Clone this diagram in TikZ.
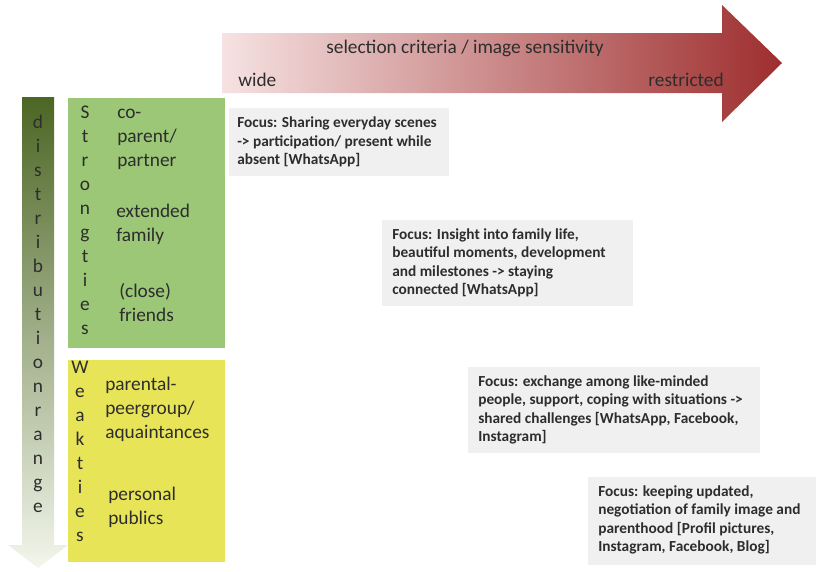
\documentclass[tikz,border=0pt]{standalone}
\usepackage{fontspec}
\setmainfont{Carlito}
\definecolor{rougeClair}{RGB}{246,226,226}
\definecolor{rougeFonce}{RGB}{158,46,46}
\definecolor{vertFonce}{RGB}{76,102,36}
\definecolor{vertClair}{RGB}{243,246,236}
\definecolor{vertCadre}{RGB}{155,199,118}
\definecolor{jauneCadre}{RGB}{232,228,88}
\definecolor{grisCadre}{RGB}{240,240,240}
\definecolor{encre}{RGB}{45,45,45}
\begin{document}
\begin{tikzpicture}[x=0.75pt,y=-0.75pt]
			\tikzstyle{cadre}=[anchor=north west,inner sep=0pt,fill=grisCadre]
			\tikzstyle{lettres}=[align=center,inner sep=0pt,text=encre,font=\fontsize{14.5}{18}\selectfont]
			\tikzstyle{groupe}=[anchor=west,align=left,inner sep=0pt,text=encre,font=\fontsize{14.5}{18}\selectfont]
			\tikzstyle{focus}=[anchor=west,align=left,inner sep=0pt,text=encre,font=\fontsize{11.5}{13.8}\selectfont\bfseries]
			\tikzstyle{etiquette}=[inner sep=0pt,text=encre,font=\fontsize{14.5}{16}\selectfont]
			\def\px{0.75pt}
			\useasboundingbox (0,0) rectangle (816,571);
			% fleche horizontale
			\shade[left color=rougeClair,right color=rougeFonce] (222,33) -- (722,33) -- (722,5) -- (782,63) -- (722,122) -- (722,93) -- (222,93) -- cycle;
			\node[etiquette] (critere) at (465,48) {selection criteria / image sensitivity};
			\node[etiquette,anchor=west] (large) at (238,80) {wide};
			\node[etiquette,anchor=east] (restreint) at (724,80) {restricted};
			% fleche verticale
			\shade[top color=vertFonce,bottom color=vertClair] (22,97) -- (54,97) -- (54,545) -- (68,545) -- (38,568) -- (8,545) -- (22,545) -- cycle;
			\node[lettres] (distribution) at (38,314) {d\\i\\s\\t\\r\\i\\b\\u\\t\\i\\o\\n\\r\\a\\n\\g\\e};
			% liens forts et faibles
			\node[anchor=north west,inner sep=0pt,fill=vertCadre,minimum width=157*\px,minimum height=250*\px] (forts) at (68,98) {};
			\node[anchor=north west,inner sep=0pt,fill=jauneCadre,minimum width=157*\px,minimum height=202*\px] (faibles) at (68,360) {};
			\node[lettres] (strong) at (85,220) {S\\t\\r\\o\\n\\g\\t\\i\\e\\s};
			\node[lettres] (weak) at (80,451) {W\\e\\a\\k\\t\\i\\e\\s};
			\node[groupe] (parent) at (117,139) {co-\\parent/\\partner};
			\node[groupe] (famille) at (116,224) {extended\\family};
			\node[groupe] (amis) at (119,302) {(close)\\friends};
			\node[groupe] (pairs) at (105,409) {parental-\\peergroup/\\aquaintances};
			\node[groupe] (public) at (108,507) {personal\\publics};
			% cadres focus
			\node[cadre,minimum width=220*\px,minimum height=68*\px] (F1) at (229,108) {};
			\node[cadre,minimum width=251*\px,minimum height=86*\px] (F2) at (382,220) {};
			\node[cadre,minimum width=292*\px,minimum height=86*\px] (F3) at (468,367) {};
			\node[cadre,minimum width=228*\px,minimum height=88*\px] (F4) at (588,477) {};
			\node[focus] (T1) at (237,142) {Focus: Sharing everyday scenes\\-> participation/ present while\\absent [WhatsApp]};
			\node[focus] (T2) at (392,263) {Focus: Insight into family life,\\beautiful moments, development\\and milestones -> staying\\connected [WhatsApp]};
			\node[focus] (T3) at (478,410) {Focus: exchange among like-minded\\people, support, coping with situations ->\\shared challenges [WhatsApp, Facebook,\\Instagram]};
			\node[focus] (T4) at (598,520) {Focus: keeping updated,\\negotiation of family image and\\parenthood [Profil pictures,\\Instagram, Facebook, Blog]};
\end{tikzpicture}
\end{document}
